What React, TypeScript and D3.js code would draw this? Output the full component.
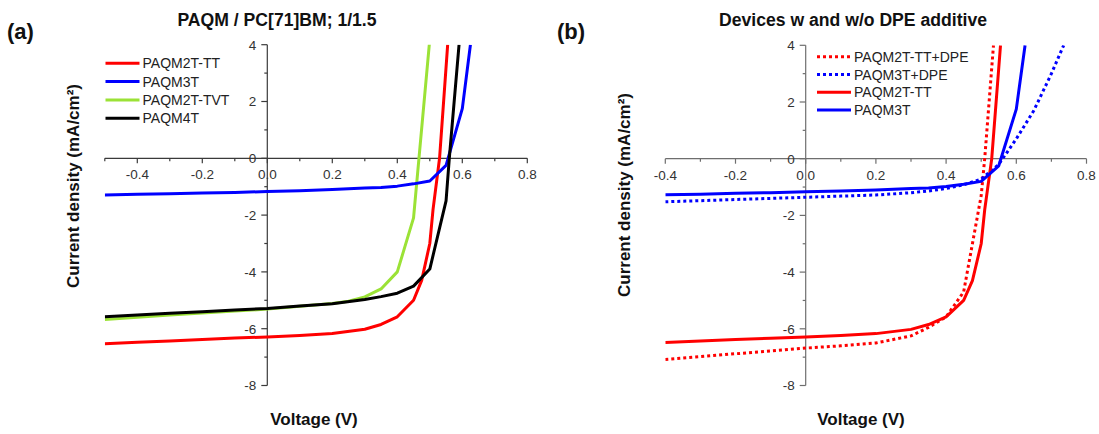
import React from 'react';
import * as d3 from 'd3';

type Pt = [number, number];

// ---------- data ----------
const titleA = 'PAQM / PC[71]BM; 1/1.5';
const titleB = 'Devices w and w/o DPE additive';
const xLabel = 'Voltage (V)';
const yLabel = 'Current density (mA/cm\u00B2)';

const yTicks = [-8, -6, -4, -2, 0, 2, 4];
const yMinor = [-7, -5, -3, -1, 1, 3];
const xTicksA = [-0.4, -0.2, 0.0, 0.2, 0.4, 0.6, 0.8];
const xMinorA = [-0.5, -0.3, -0.1, 0.1, 0.3, 0.5, 0.7];
const xTicksB = [-0.4, -0.2, 0.0, 0.2, 0.4, 0.6, 0.8];
const xMinorB = [-0.3, -0.1, 0.1, 0.3, 0.5, 0.7];

const paqm2tTT: Pt[] = [
  [-0.5, -6.53], [-0.4, -6.48], [-0.3, -6.43], [-0.2, -6.38], [-0.1, -6.33], [0, -6.29],
  [0.1, -6.24], [0.2, -6.17], [0.3, -6.02], [0.35, -5.85], [0.4, -5.58], [0.45, -5.0],
  [0.475, -4.3], [0.5, -3.0], [0.51, -1.8], [0.53, 0.0], [0.555, 4.0],
];
const paqm3T: Pt[] = [
  [-0.5, -1.29], [-0.4, -1.27], [-0.3, -1.25], [-0.2, -1.22], [-0.1, -1.2], [0, -1.17],
  [0.1, -1.14], [0.2, -1.1], [0.3, -1.05], [0.35, -1.03], [0.4, -0.98], [0.45, -0.9],
  [0.5, -0.8], [0.55, -0.25], [0.6, 1.75], [0.625, 4.0],
];
const paqm2tTVT: Pt[] = [
  [-0.5, -5.68], [-0.4, -5.6], [-0.3, -5.52], [-0.2, -5.45], [-0.1, -5.38], [0, -5.31],
  [0.1, -5.21], [0.2, -5.11], [0.25, -5.03], [0.3, -4.88], [0.35, -4.6], [0.4, -4.0],
  [0.45, -2.1], [0.5, 4.2],
];
const paqm4T: Pt[] = [
  [-0.5, -5.58], [-0.4, -5.52], [-0.3, -5.46], [-0.2, -5.4], [-0.1, -5.34], [0, -5.29],
  [0.1, -5.2], [0.2, -5.12], [0.3, -4.97], [0.35, -4.87], [0.4, -4.75], [0.45, -4.5],
  [0.5, -3.9], [0.55, -1.5], [0.56, 0.0], [0.59, 4.0],
];
const paqm2tTTDPE: Pt[] = [
  [-0.4, -7.08], [-0.3, -6.98], [-0.2, -6.88], [-0.1, -6.78], [0, -6.68], [0.1, -6.6],
  [0.2, -6.5], [0.3, -6.25], [0.35, -5.95], [0.4, -5.58], [0.45, -4.7], [0.475, -3.0],
  [0.5, -1.3], [0.51, 0.0], [0.535, 4.0],
];
const paqm3TDPE: Pt[] = [
  [-0.4, -1.52], [-0.3, -1.48], [-0.2, -1.44], [-0.1, -1.4], [0, -1.36], [0.1, -1.32],
  [0.2, -1.28], [0.3, -1.2], [0.35, -1.14], [0.4, -1.05], [0.45, -0.92], [0.5, -0.72],
  [0.55, -0.2], [0.6, 0.7], [0.65, 1.7], [0.7, 3.0], [0.735, 4.0],
];

const RED = '#ff0000';
const BLUE = '#0000ff';
const GREEN = '#9be236';
const BLACK = '#000000';

interface Series { name: string; data: Pt[]; color: string; dotted?: boolean }

const seriesA: Series[] = [
  { name: 'PAQM2T-TT', data: paqm2tTT, color: RED },
  { name: 'PAQM3T', data: paqm3T, color: BLUE },
  { name: 'PAQM2T-TVT', data: paqm2tTVT, color: GREEN },
  { name: 'PAQM4T', data: paqm4T, color: BLACK },
];
const drawOrderA = [2, 0, 1, 3];

const seriesB: Series[] = [
  { name: 'PAQM2T-TT+DPE', data: paqm2tTTDPE, color: RED, dotted: true },
  { name: 'PAQM3T+DPE', data: paqm3TDPE, color: BLUE, dotted: true },
  { name: 'PAQM2T-TT', data: paqm2tTT.filter((d) => d[0] >= -0.4), color: RED },
  { name: 'PAQM3T', data: paqm3T.filter((d) => d[0] >= -0.4), color: BLUE },
];
const drawOrderB = [0, 1, 2, 3];

const FONT = '"Liberation Sans", Arial, sans-serif';

interface PanelProps {
  id: string;
  letter: string;
  letterX: number;
  title: string;
  titleX: number;
  xDomain: [number, number];
  xRange: [number, number];
  yRange: [number, number];
  xTicks: number[];
  xMinor: number[];
  axisColor: string;
  series: Series[];
  order: number[];
  legendX: number;
  legendY: number;
  legendStep: number;
  yLabelX: number;
  yLabelY: number;
  xLabelX: number;
}

function Panel(p: PanelProps) {
  const x = d3.scaleLinear().domain(p.xDomain).range(p.xRange);
  const y = d3.scaleLinear().domain([-8, 4]).range(p.yRange);
  const ax = x(0);
  const ay = y(0);
  const line = d3
    .line<Pt>()
    .x((d) => x(d[0]))
    .y((d) => y(d[1]));
  const labelColor = '#333';
  return (
    <g>
      <defs>
        <clipPath id={`clip-${p.id}`}>
          <rect x={p.xRange[0]} y={p.yRange[1]} width={p.xRange[1] - p.xRange[0]} height={p.yRange[0] - p.yRange[1]} />
        </clipPath>
      </defs>
      <text x={p.letterX} y={39} fontFamily={FONT} fontWeight="bold" fontSize={22} fill="#111">{p.letter}</text>
      <text x={p.titleX} y={26} textAnchor="middle" fontFamily={FONT} fontWeight="bold" fontSize={17.6} fill="#111">{p.title}</text>

      {/* x axis */}
      <line x1={p.xRange[0]} x2={p.xRange[1]} y1={ay} y2={ay} stroke={p.axisColor} strokeWidth={1.2} />
      {p.xTicks.map((t) => (
        <g key={`xt${t}`}>
          <line x1={x(t)} x2={x(t)} y1={ay} y2={ay + 5} stroke={p.axisColor} strokeWidth={1.2} />
          <text x={x(t)} y={ay + 21} textAnchor="middle" fontFamily={FONT} fontSize={13.5} fill={labelColor}>{t.toFixed(1)}</text>
        </g>
      ))}
      {p.xMinor.map((t) => (
        <line key={`xm${t}`} x1={x(t)} x2={x(t)} y1={ay} y2={ay + 3} stroke={p.axisColor} strokeWidth={1.2} />
      ))}

      {/* y axis */}
      <line x1={ax} x2={ax} y1={p.yRange[0]} y2={p.yRange[1]} stroke={p.axisColor} strokeWidth={1.2} />
      {yTicks.map((t) => (
        <g key={`yt${t}`}>
          <line x1={ax - 6} x2={ax} y1={y(t)} y2={y(t)} stroke={p.axisColor} strokeWidth={1.2} />
          <text x={ax - 11} y={y(t)} dy="0.36em" textAnchor="end" fontFamily={FONT} fontSize={13.5} fill={labelColor}>{String(t)}</text>
        </g>
      ))}
      {yMinor.map((t) => (
        <line key={`ym${t}`} x1={ax - 3} x2={ax} y1={y(t)} y2={y(t)} stroke={p.axisColor} strokeWidth={1.2} />
      ))}

      {/* curves */}
      <g clipPath={`url(#clip-${p.id})`}>
        {p.order.map((i) => {
          const s = p.series[i];
          return (
            <path key={s.name + i} d={line(s.data) || ''} fill="none" stroke={s.color} strokeWidth={3}
              strokeDasharray={s.dotted ? '3,3' : undefined} strokeLinejoin="round" />
          );
        })}
      </g>

      {/* legend */}
      {p.series.map((s, i) => {
        const ly = p.legendY + i * p.legendStep;
        return (
          <g key={`lg${i}`}>
            <line x1={p.legendX} x2={p.legendX + 34} y1={ly} y2={ly} stroke={s.color} strokeWidth={3}
              strokeDasharray={s.dotted ? '3,3' : undefined} />
            <text x={p.legendX + 37} y={ly} dy="0.36em" fontFamily={FONT} fontSize={14} fill="#222">{s.name}</text>
          </g>
        );
      })}

      {/* axis titles */}
      <text transform={`translate(${p.yLabelX},${p.yLabelY}) rotate(-90)`} textAnchor="middle" fontFamily={FONT}
        fontWeight="bold" fontSize={17} fill="#111">{yLabel}</text>
      <text x={p.xLabelX} y={425} textAnchor="middle" fontFamily={FONT} fontWeight="bold" fontSize={17} fill="#111">{xLabel}</text>
    </g>
  );
}

export default function App() {
  return (
    <svg width={1099} height={434} style={{ position: 'absolute', left: 0, top: 0, background: '#fff' }}>
      <rect x={0} y={0} width={1099} height={434} fill="#fff" />
      <Panel id="a" letter="(a)" letterX={7} title={titleA} titleX={277} xDomain={[-0.5, 0.8]} xRange={[104.8, 527.3]}
        yRange={[385.5, 44.7]} xTicks={xTicksA} xMinor={xMinorA} axisColor="#3a3a3a" series={seriesA} order={drawOrderA}
        legendX={105.5} legendY={63.3} legendStep={18.3} yLabelX={79} yLabelY={186} xLabelX={314} />
      <Panel id="b" letter="(b)" letterX={557} title={titleB} titleX={853} xDomain={[-0.4, 0.8]} xRange={[665.3, 1086.5]}
        yRange={[385.5, 45.3]} xTicks={xTicksB} xMinor={xMinorB} axisColor="#6e6e6e" series={seriesB} order={drawOrderB}
        legendX={817} legendY={56.7} legendStep={17.8} yLabelX={630} yLabelY={195} xLabelX={861} />
    </svg>
  );
}
